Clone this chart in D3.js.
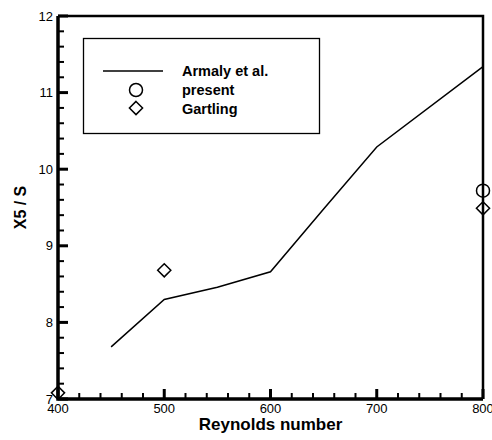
<!DOCTYPE html>
<html lang="en">
<head>
  <meta charset="utf-8">
  <title>X5 / S vs Reynolds number</title>
  <script src="https://d3js.org/d3.v7.min.js"></script>
</head>
<body style="margin:0">
<svg></svg>
<script>
// data
const armalyRe = [450, 500, 550, 600, 650, 700, 800];
const armalyX5 = [7.68, 8.3, 8.46, 8.66, 9.48, 10.29, 11.34];
const presentRe = [800];
const presentX5 = [9.72];
const gartlingRe = [400, 500, 800];
const gartlingX5 = [7.08, 8.68, 9.49];
const xTicks = [400, 500, 600, 700, 800];
const yTicks = [7, 8, 9, 10, 11, 12];
const legendLabels = ["Armaly et al.", "present", "Gartling"];

const W = 492, H = 440;
const FONT = "Liberation Sans, Arial, Helvetica, sans-serif";

const svg = d3.select("svg").attr("width", W).attr("height", H);

const x = d3.scaleLinear().domain([400, 800]).range([58, 483]);
const y = d3.scaleLinear().domain([7, 12]).range([399, 16]);

const xMinor = d3.range(400, 801, 20).filter(v => v % 100 !== 0);
const yMinor = d3.range(7, 12.01, 0.2).filter(v => Math.abs(v - Math.round(v)) > 0.01);

const bx = x(400), by = y(7), rx = x(800), ty = y(12);

// Armaly line
const line = d3.line().x(d => x(d[0])).y(d => y(d[1]));
svg.append("path")
  .datum(d3.zip(armalyRe, armalyX5))
  .attr("d", line)
  .attr("fill", "none").attr("stroke", "black").attr("stroke-width", 1.5);

// present: circles
svg.append("g").selectAll("circle")
  .data(d3.zip(presentRe, presentX5))
  .join("circle")
  .attr("cx", d => x(d[0])).attr("cy", d => y(d[1])).attr("r", 6.5)
  .attr("fill", "none").attr("stroke", "black").attr("stroke-width", 1.5);

// Gartling: diamonds
const diamond = d3.symbol().type(d3.symbolDiamond2).size(110);
svg.append("g").selectAll("path")
  .data(d3.zip(gartlingRe, gartlingX5))
  .join("path")
  .attr("d", diamond)
  .attr("transform", d => `translate(${x(d[0])},${y(d[1])})`)
  .attr("fill", "none").attr("stroke", "black").attr("stroke-width", 1.5);

// frame: thick left/bottom axes, thinner top/right
svg.append("path")
  .attr("d", `M${bx},${ty}H${rx}V${by}`)
  .attr("fill", "none").attr("stroke", "black").attr("stroke-width", 2.5);
svg.append("path")
  .attr("d", `M${bx},${ty}V${by}H${rx}`)
  .attr("fill", "none").attr("stroke", "black").attr("stroke-width", 3.5);

// inward ticks on the bottom and left axes
svg.append("g").selectAll("line").data(xMinor).join("line")
  .attr("x1", d => x(d)).attr("x2", d => x(d)).attr("y1", by).attr("y2", by - 6)
  .attr("stroke", "black").attr("stroke-width", 2);
svg.append("g").selectAll("line").data(xTicks).join("line")
  .attr("x1", d => x(d)).attr("x2", d => x(d)).attr("y1", by).attr("y2", by - 10)
  .attr("stroke", "black").attr("stroke-width", 3);
svg.append("g").selectAll("line").data(yMinor).join("line")
  .attr("y1", d => y(d)).attr("y2", d => y(d)).attr("x1", bx).attr("x2", bx + 6)
  .attr("stroke", "black").attr("stroke-width", 2);
svg.append("g").selectAll("line").data(yTicks).join("line")
  .attr("y1", d => y(d)).attr("y2", d => y(d)).attr("x1", bx).attr("x2", bx + 10)
  .attr("stroke", "black").attr("stroke-width", 3);

svg.append("g").selectAll("text").data(xTicks).join("text")
  .attr("x", d => x(d)).attr("y", by + 14)
  .attr("text-anchor", "middle").attr("font-size", 13).attr("font-family", FONT)
  .text(d3.format("d"));

svg.append("g").selectAll("text").data(yTicks).join("text")
  .attr("x", bx - 5).attr("y", d => y(d)).attr("dy", "0.35em")
  .attr("text-anchor", "end").attr("font-size", 13).attr("font-family", FONT)
  .text(d3.format("d"));

// legend
const lg = svg.append("g");
lg.append("rect")
  .attr("x", 83.5).attr("y", 38.5).attr("width", 236).attr("height", 95)
  .attr("fill", "white").attr("stroke", "black").attr("stroke-width", 1.3);
lg.append("line")
  .attr("x1", 103).attr("x2", 163).attr("y1", 71).attr("y2", 71)
  .attr("stroke", "black").attr("stroke-width", 1.5);
lg.append("circle")
  .attr("cx", 136).attr("cy", 90).attr("r", 6.5)
  .attr("fill", "none").attr("stroke", "black").attr("stroke-width", 1.5);
lg.append("path")
  .attr("d", diamond)
  .attr("transform", "translate(136,108)")
  .attr("fill", "none").attr("stroke", "black").attr("stroke-width", 1.5);
lg.selectAll("text")
  .data(legendLabels)
  .join("text")
  .attr("x", 182).attr("y", (d, i) => 76 + i * 19)
  .attr("font-size", 14.5).attr("font-weight", "bold").attr("font-family", FONT)
  .text(d => d);

// axis titles
svg.append("text")
  .attr("x", (bx + rx) / 2).attr("y", 430)
  .attr("text-anchor", "middle")
  .attr("font-size", 17).attr("font-weight", "bold").attr("font-family", FONT)
  .text("Reynolds number");

svg.append("text")
  .attr("transform", `translate(26,${(by + ty) / 2}) rotate(-90)`)
  .attr("text-anchor", "middle")
  .attr("font-size", 16).attr("font-weight", "bold").attr("font-family", FONT)
  .text("X5 / S");
</script>
</body>
</html>
